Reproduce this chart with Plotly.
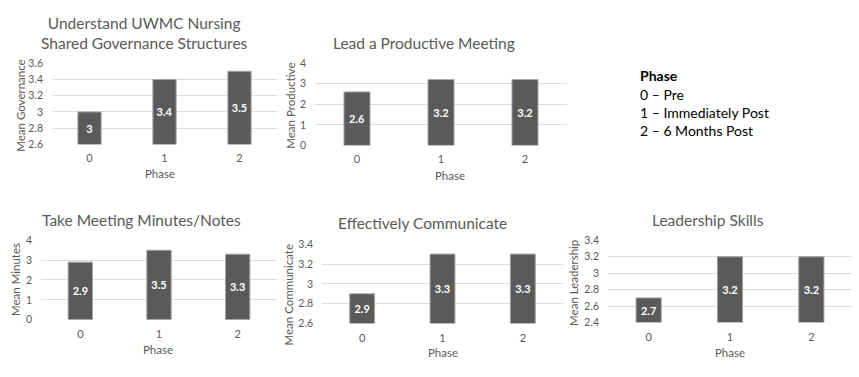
import plotly.graph_objects as go

W, H = 859, 377
FONT = "Lato, 'Open Sans', sans-serif"
TXT = "#595959"
BAR = "#5a5a5a"
GRID = "#dcdcdc"

phases = ["0", "1", "2"]
titles = ["Understand UWMC Nursing<br>Shared Governance Structures",
          "Lead a Productive Meeting",
          "Take Meeting Minutes/Notes",
          "Effectively Communicate",
          "Leadership Skills"]
ytitles = ["Mean Governance", "Mean Productive", "Mean Minutes",
           "Mean Communicate", "Mean Leadership"]
governance = [3.0, 3.4, 3.5]
productive = [2.6, 3.2, 3.2]
minutes = [2.9, 3.5, 3.3]
communicate = [2.9, 3.3, 3.3]
leadership = [2.7, 3.2, 3.2]
series = [governance, productive, minutes, communicate, leadership]
yranges = [(2.6, 3.6), (0, 4), (0, 4), (2.6, 3.4), (2.4, 3.4)]
ydticks = [0.2, 1, 1, 0.2, 0.2]
legend_head = "Phase"
legend_lines = ["0 – Pre", "1 – Immediately Post", "2 – 6 Months Post"]

# layout in pixels: plot area (x0, x1, ytop, ybottom)
boxes = [(52, 277, 59, 143), (315, 567, 59, 144), (41, 277, 242, 324),
         (322, 563, 246, 328), (608, 852, 242, 327)]
title_pos = [(144, 28), (424, 38), (141, 221), (422, 224), (708, 221)]
xtitle_pos = [(160, 173), (450, 175), (158, 355), (443, 358), (730, 358)]
ytitle_pos = [(21, 103), (291, 103), (16, 283), (289, 298), (574, 286)]

def px(x):
    return x / W

def py(y):
    return 1 - y / H

fig = go.Figure()
ann = []
for i, vals in enumerate(series):
    x0, x1, yt, yb = boxes[i]
    xa = "x" if i == 0 else f"x{i+1}"
    ya = "y" if i == 0 else f"y{i+1}"
    lo, hi = yranges[i]
    fig.add_trace(go.Bar(
        x=phases, y=[v - lo for v in vals], base=[lo] * len(vals),
        text=[f"{v:g}" for v in vals], textposition="inside",
        insidetextanchor="middle", constraintext="none",
        textfont=dict(family=FONT, size=11, color="white", weight="bold"),
        marker=dict(color=BAR, line=dict(color="#a6a6a6", width=1)),
        width=0.31, xaxis=xa, yaxis=ya, showlegend=False, hoverinfo="skip"))
    kx = "xaxis" if i == 0 else f"xaxis{i+1}"
    ky = "yaxis" if i == 0 else f"yaxis{i+1}"
    fig.layout[kx] = dict(domain=[px(x0), px(x1)], anchor=ya, showgrid=False,
                          showline=False, zeroline=False, ticks="",
                          tickfont=dict(family=FONT, size=11, color=TXT),
                          ticklabelstandoff=6, fixedrange=True)
    fig.layout[ky] = dict(domain=[py(yb), py(yt)], anchor=xa, range=[lo, hi],
                          dtick=ydticks[i], tick0=0, showgrid=True, gridcolor=GRID,
                          gridwidth=1, zeroline=False, showline=False, ticks="",
                          tickfont=dict(family=FONT, size=10.5, color=TXT),
                          ticklabelstandoff=8, fixedrange=True)
    tx, ty = title_pos[i]
    ann.append(dict(text=titles[i], x=px(tx), y=py(ty), xref="paper", yref="paper",
                    showarrow=False, xanchor="center", yanchor="middle",
                    font=dict(family=FONT, size=15.5, color=TXT)))
    xx, xy = xtitle_pos[i]
    ann.append(dict(text="Phase", x=px(xx), y=py(xy), xref="paper", yref="paper",
                    showarrow=False, xanchor="center", yanchor="middle",
                    font=dict(family=FONT, size=11.5, color=TXT)))
    yx, yy = ytitle_pos[i]
    ann.append(dict(text=ytitles[i], x=px(yx), y=py(yy), xref="paper", yref="paper",
                    showarrow=False, xanchor="center", yanchor="middle", textangle=-90,
                    font=dict(family=FONT, size=11.5, color=TXT)))

ann.append(dict(text=f"<b>{legend_head}</b>", x=px(638), y=py(72), xref="paper",
                yref="paper", showarrow=False, xanchor="left", yanchor="middle",
                font=dict(family=FONT, size=14, color="black")))
for j, line in enumerate(legend_lines):
    ann.append(dict(text=line, x=px(638), y=py(91 + 19 * j), xref="paper",
                    yref="paper", showarrow=False, xanchor="left", yanchor="middle",
                    font=dict(family=FONT, size=14, color="black")))

fig.update_layout(width=W, height=H, margin=dict(l=0, r=0, t=0, b=0),
                  paper_bgcolor="white", plot_bgcolor="white",
                  annotations=ann, bargap=0.69)
fig.write_html("out.html", config={"displayModeBar": False},
               post_script="document.body.style.margin='0';document.body.style.overflow='hidden';")
